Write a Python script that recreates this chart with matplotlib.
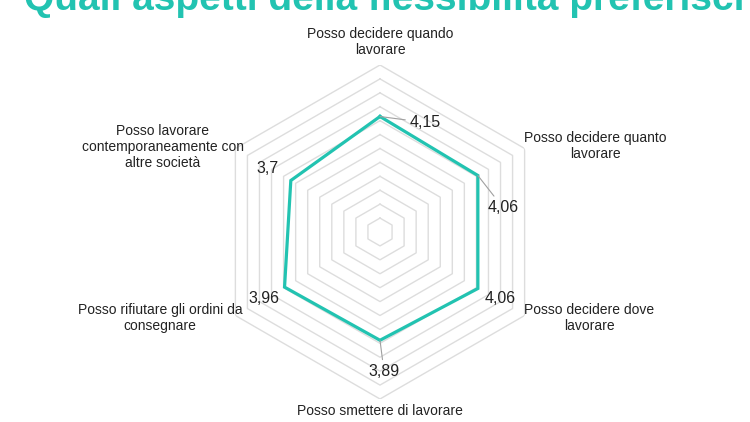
import numpy as np
import matplotlib
matplotlib.use("Agg")
import matplotlib.pyplot as plt

# dati
categorie = [
    "Posso decidere quando\nlavorare",
    "Posso decidere quanto\nlavorare",
    "Posso decidere dove\nlavorare",
    "Posso smettere di lavorare",
    "Posso rifiutare gli ordini da\nconsegnare",
    "Posso lavorare\ncontemporaneamente con\naltre società",
]
valori = [4.15, 4.06, 4.06, 3.89, 3.96, 3.7]
etichette = ["4,15", "4,06", "4,06", "3,89", "3,96", "3,7"]
griglia = np.arange(0.5, 6.01, 0.5)
titolo = "Quali aspetti della flessibilità preferisci"

TEAL = "#22C3B1"
W, H = 750, 422

plt.rcParams["font.family"] = ["Liberation Sans", "DejaVu Sans"]

fig = plt.figure(figsize=(W / 100, H / 100), dpi=100)

# asse polare centrato a (380, 232) px, raggio 167 px
cx, cy, R = 380, 232, 167
ax = fig.add_axes([(cx - R) / W, (H - cy - R) / H, 2 * R / W, 2 * R / H],
                  projection="polar")
ax.set_theta_offset(np.pi / 2)
ax.set_theta_direction(-1)
ax.set_ylim(0, 6)
ax.set_xticks([])
ax.set_yticks([])
ax.grid(False)
ax.spines["polar"].set_visible(False)
ax.patch.set_alpha(0)

n = len(valori)
ang = np.arange(n) * 2 * np.pi / n
ang_c = np.append(ang, ang[0])

for g in griglia:
    ax.plot(ang_c, [g] * (n + 1), color="#DDDDDD", lw=1.0, zorder=1)

ax.plot(ang_c, valori + [valori[0]], color=TEAL, lw=2.3, zorder=3,
        solid_joinstyle="miter")

# etichette valori (offset in pixel, con/senza linea guida)
offs = [(45, -6), (25, -32), (22, -10), (4, -31), (-21, -11), (-23, 12)]
guida = [True, True, False, True, False, False]
for a, v, t, o, g in zip(ang, valori, etichette, offs, guida):
    kw = {}
    if g:
        kw["arrowprops"] = dict(arrowstyle="-", color="#A0A0A0", lw=0.8,
                                shrinkA=1, shrinkB=0)
    ax.annotate(t, xy=(a, v), xytext=o, textcoords="offset pixels",
                ha="center", va="center", fontsize=11.5, color="#222222",
                zorder=4, **kw)

# etichette categorie
pos = [(380, 42), (595, 146), (589, 318), (380, 411), (160, 318), (163, 147)]
for c, (px, py) in zip(categorie, pos):
    fig.text(px / W, (H - py) / H, c, ha="center", va="center",
             fontsize=10, color="#222222", linespacing=1.2)

fig.text(384 / W, (H - 10) / H, titolo, ha="center", va="baseline",
         fontsize=28, fontweight="bold", color=TEAL)

fig.savefig("out.png", dpi=100)
